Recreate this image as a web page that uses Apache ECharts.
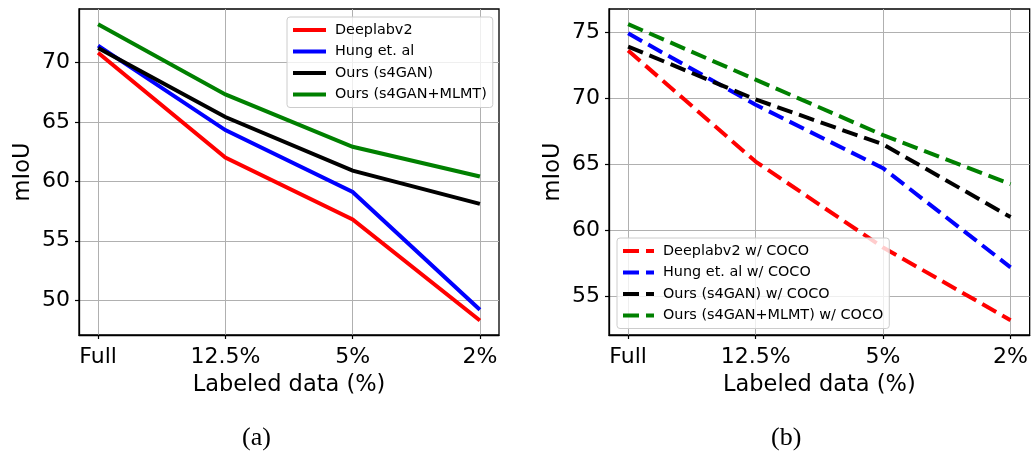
<!DOCTYPE html>
<html>
<head>
<meta charset="utf-8">
<script src="https://cdn.jsdelivr.net/npm/echarts@6/dist/echarts.min.js"></script>
<style>
html,body{margin:0;padding:0;background:#fff;}
#chart{width:1031px;height:456px;}
</style>
</head>
<body>
<div id="chart"></div>
<script>
// ---- data ----
const categories = ['Full', '12.5%', '5%', '2%'];

// (a) Pascal VOC, no COCO
const namesA = ['Deeplabv2', 'Hung et. al', 'Ours (s4GAN)', 'Ours (s4GAN+MLMT)'];
const deeplabA = [70.8, 62.0, 56.8, 48.3];
const hungA = [71.4, 64.3, 59.1, 49.2];
const s4ganA = [71.2, 65.4, 60.9, 58.1];
const mlmtA = [73.2, 67.3, 62.9, 60.4];

// (b) with COCO pretraining
const namesB = ['Deeplabv2 w/ COCO', 'Hung et. al w/ COCO', 'Ours (s4GAN) w/ COCO', 'Ours (s4GAN+MLMT) w/ COCO'];
const deeplabB = [73.6, 65.2, 58.7, 53.2];
const hungB = [74.9, 69.5, 64.7, 57.2];
const s4ganB = [73.9, 69.9, 66.5, 61.0];
const mlmtB = [75.6, 71.4, 67.2, 63.5];

const yTicksA = [50, 55, 60, 65, 70];
const yTicksB = [55, 60, 65, 70, 75];

const captions = ['(a)', '(b)'];

// ---- chart ----
const colors = ['#ff0000', '#0000ff', '#000000', '#008000'];
const FONT = 'DejaVu Sans';
const xIdx = categories.map((c, i) => i);

function pairs(arr) { return arr.map((v, i) => [i, v]); }

function xAxisDef(gridIndex) {
  return {
    type: 'value', gridIndex: gridIndex, min: -0.15, max: 3.15,
    name: 'Labeled data (%)', nameLocation: 'middle', nameGap: 39,
    nameTextStyle: { fontFamily: FONT, fontSize: 22.5, color: '#000' },
    axisLine: { show: true, onZero: false, lineStyle: { color: '#000', width: 1.3 } },
    axisTick: { show: true, length: 4, customValues: xIdx, lineStyle: { color: '#000', width: 1.2 } },
    axisLabel: { customValues: xIdx, margin: 11, fontFamily: FONT, fontSize: 22, color: '#000',
      formatter: v => categories[Math.round(v)] },
    splitLine: { show: true, lineStyle: { color: '#b0b0b0', width: 1 } }
  };
}
function yAxisDef(gridIndex, min, max, ticks) {
  return {
    type: 'value', gridIndex: gridIndex, min: min, max: max,
    name: 'mIoU', nameLocation: 'middle', nameGap: 44, nameRotate: 90,
    nameTextStyle: { fontFamily: FONT, fontSize: 22.5, color: '#000', verticalAlign: 'bottom' },
    axisLine: { show: true, onZero: false, lineStyle: { color: '#000', width: 1.3 } },
    axisTick: { show: true, length: 4, customValues: ticks, lineStyle: { color: '#000', width: 1.2 } },
    axisLabel: { customValues: ticks, margin: 9, fontFamily: FONT, fontSize: 22, color: '#000' },
    splitLine: { show: true, lineStyle: { color: '#b0b0b0', width: 1 } }
  };
}

const seriesA = [deeplabA, hungA, s4ganA, mlmtA].map((d, i) => ({
  type: 'line', name: namesA[i], xAxisIndex: 0, yAxisIndex: 0,
  data: pairs(d), symbol: 'none', color: colors[i],
  lineStyle: { color: colors[i], width: 4, cap: 'butt', join: 'miter' }
}));
const seriesB = [deeplabB, hungB, s4ganB, mlmtB].map((d, i) => ({
  type: 'line', name: namesB[i], xAxisIndex: 1, yAxisIndex: 1,
  data: pairs(d), symbol: 'none', color: colors[i],
  lineStyle: { color: colors[i], width: 4, type: [16, 7], cap: 'butt' }
}));

function legendDef(names, left, top, iw) {
  return {
    data: names, left: left, top: top, orient: 'vertical',
    backgroundColor: 'rgba(255,255,255,0.8)', borderColor: '#cccccc', borderWidth: 1, borderRadius: 3,
    padding: [5, 6, 5, 4], itemGap: 5.5, itemWidth: iw, itemHeight: 14,
    lineStyle: { width: 4 },
    itemStyle: { opacity: 0 },
    textStyle: { fontFamily: FONT, fontSize: 14.4, color: '#000', lineHeight: 16, padding: [0, 0, 0, 4] },
    selectedMode: false
  };
}

const chart = echarts.init(document.getElementById('chart'), null, { renderer: 'canvas' });
chart.setOption({
  backgroundColor: '#ffffff',
  animation: false,
  grid: [
    { left: 79, top: 9, right: 532, bottom: 121, show: true, borderColor: '#000', borderWidth: 1.3, containLabel: false },
    { left: 609, top: 9, right: 1, bottom: 121, show: true, borderColor: '#000', borderWidth: 1.3, containLabel: false }
  ],
  xAxis: [xAxisDef(0), xAxisDef(1)],
  yAxis: [yAxisDef(0, 47.08, 74.48, yTicksA), yAxisDef(1, 52.08, 76.74, yTicksB)],
  legend: [legendDef(namesA, 287, 17, 33), legendDef(namesB, 617, 238, 31)],
  series: seriesA.concat(seriesB),
  graphic: [
    { type: 'text', left: 242, top: 425, style: { text: captions[0], font: '26px "Liberation Serif"', fill: '#000' } },
    { type: 'text', left: 771, top: 425, style: { text: captions[1], font: '26px "Liberation Serif"', fill: '#000' } }
  ]
});
</script>
</body>
</html>
